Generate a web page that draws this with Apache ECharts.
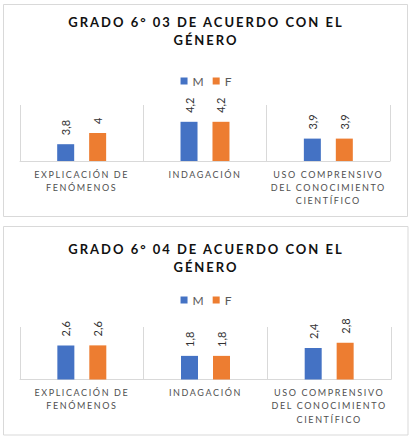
<!DOCTYPE html>
<html>
<head>
<meta charset="utf-8">
<script src="https://cdn.jsdelivr.net/npm/echarts@6/dist/echarts.min.js"></script>
<style>
html,body{margin:0;padding:0;background:#fff;}
#c{width:412px;height:439px;}
svg text[style*="13px"]{letter-spacing:2px;}
svg text[style*="9px"]{letter-spacing:1.6px;}
</style>
</head>
<body>
<div id="c"></div>
<script>
const categories = ['EXPLICACIÓN DE\nFENÓMENOS', 'INDAGACIÓN', 'USO COMPRENSIVO\nDEL CONOCIMIENTO\nCIENTÍFICO'];
const seriesNames = ['M', 'F'];
const titles = ['GRADO 6° 03 DE ACUERDO CON EL\nGÉNERO', 'GRADO 6° 04 DE ACUERDO CON EL\nGÉNERO'];
const grado03M = [3.8, 4.2, 3.9];
const grado03F = [4, 4.2, 3.9];
const grado04M = [2.6, 1.8, 2.4];
const grado04F = [2.6, 1.8, 2.8];
const colors = ['#4472C4', '#ED7D31'];

const chart = echarts.init(document.getElementById('c'), null, {renderer: 'svg'});
const FONT = 'Lato, "Open Sans", sans-serif';
const fmt = p => String(p.value).replace('.', ',');
function bar(name, data, idx, color) {
  return {
    type: 'bar', name: name, data: data,
    xAxisIndex: idx, yAxisIndex: idx,
    barWidth: 17, barGap: '88%',
    itemStyle: {color: color},
    label: {show: true, position: 'top', rotate: 90, align: 'left', verticalAlign: 'middle',
      distance: 9, formatter: fmt, fontSize: 11, color: '#333333', fontFamily: FONT}
  };
}
function xAx(idx) {
  return {gridIndex: idx, type: 'category', data: categories,
    axisLine: {lineStyle: {color: '#d9d9d9'}}, axisTick: {show: false},
    splitLine: {show: true, lineStyle: {color: '#d9d9d9'}},
    axisLabel: {fontSize: 9, color: '#505050', lineHeight: 13.3, margin: 6.5, fontFamily: FONT, interval: 0}};
}
function yAx(idx, min, max) {
  return {gridIndex: idx, type: 'value', min: min, max: max,
    axisLine: {show: false}, axisTick: {show: false}, axisLabel: {show: false}, splitLine: {show: false}};
}
const legendBase = {data: seriesNames, left: 'center', icon: 'rect', itemWidth: 7, itemHeight: 7, itemGap: 9,
  textStyle: {fontSize: 12, color: '#595959', fontFamily: FONT}};
chart.setOption({
  animation: false,
  title: [
    {text: titles[0], left: 'center', top: 12.5, padding: 0,
     textStyle: {fontSize: 13, fontWeight: 'bold', color: '#111111', lineHeight: 18, fontFamily: FONT}},
    {text: titles[1], left: 'center', top: 240, padding: 0,
     textStyle: {fontSize: 13, fontWeight: 'bold', color: '#111111', lineHeight: 18, fontFamily: FONT}}
  ],
  legend: [Object.assign({top: 70}, legendBase), Object.assign({top: 289}, legendBase)],
  grid: [
    {left: 20, right: 22, top: 105, height: 56},
    {left: 20, right: 21, top: 327, height: 52.5}
  ],
  xAxis: [xAx(0), xAx(1)],
  yAxis: [yAx(0, 3.5, 4.5), yAx(1, 0, 4)],
  series: [
    bar(seriesNames[0], grado03M, 0, colors[0]),
    bar(seriesNames[1], grado03F, 0, colors[1]),
    bar(seriesNames[0], grado04M, 1, colors[0]),
    bar(seriesNames[1], grado04F, 1, colors[1])
  ],
  graphic: [
    {type: 'rect', shape: {x: 3.5, y: 4.5, width: 404, height: 212}, style: {fill: 'none', stroke: '#d9d9d9', lineWidth: 1}},
    {type: 'rect', shape: {x: 3.5, y: 226.5, width: 404.5, height: 208.5}, style: {fill: 'none', stroke: '#d9d9d9', lineWidth: 1}}
  ]
});
</script>
</body>
</html>
